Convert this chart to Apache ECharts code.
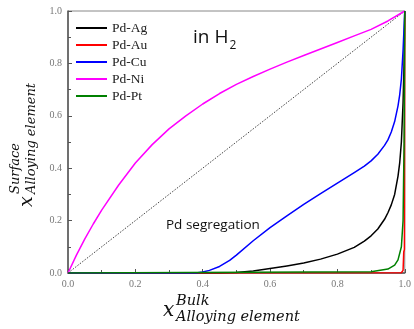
<!DOCTYPE html>
<html><head><meta charset="utf-8">
<script src="https://cdn.jsdelivr.net/npm/echarts@6/dist/echarts.min.js"></script>
<style>html,body{margin:0;padding:0;background:#fff}#c{width:414px;height:329px}</style>
</head><body><div id="c"></div>
<script>
var seriesNames = ['Pd-Ag', 'Pd-Au', 'Pd-Cu', 'Pd-Ni', 'Pd-Pt'];
var seriesColors = ['#000000', '#ff0000', '#0000ff', '#ff00ff', '#008000'];
var tickLabels = ['0.0', '0.2', '0.4', '0.6', '0.8', '1.0'];

var agX = [0, 0.45, 0.5, 0.55, 0.6, 0.65, 0.7, 0.75, 0.8, 0.85, 0.88, 0.9, 0.92, 0.94, 0.95, 0.96, 0.97, 0.98, 0.985, 0.99, 0.995, 0.998, 1.0];
var agY = [0, 0, 0.002, 0.008, 0.017, 0.027, 0.038, 0.053, 0.072, 0.098, 0.122, 0.142, 0.168, 0.205, 0.23, 0.26, 0.3, 0.37, 0.42, 0.5, 0.65, 0.8, 1.0];

var auX = [0, 0.99, 0.995, 0.997, 0.999, 1.0];
var auY = [0, 0.001, 0.01, 0.08, 0.09, 1.0];

var cuX = [0, 0.38, 0.4, 0.42, 0.45, 0.48, 0.5, 0.55, 0.6, 0.65, 0.7, 0.75, 0.8, 0.85, 0.88, 0.9, 0.92, 0.94, 0.95, 0.96, 0.97, 0.98, 0.985, 0.99, 0.995, 1.0];
var cuY = [0, 0, 0.004, 0.01, 0.025, 0.048, 0.068, 0.123, 0.173, 0.218, 0.262, 0.303, 0.343, 0.383, 0.408, 0.428, 0.453, 0.487, 0.508, 0.538, 0.578, 0.638, 0.68, 0.74, 0.85, 1.0];

var niX = [0, 0.025, 0.05, 0.075, 0.1, 0.15, 0.2, 0.25, 0.3, 0.35, 0.4, 0.45, 0.5, 0.55, 0.6, 0.65, 0.7, 0.75, 0.8, 0.85, 0.9, 0.95, 1.0];
var niY = [0, 0.068, 0.13, 0.187, 0.24, 0.335, 0.42, 0.49, 0.55, 0.6, 0.645, 0.685, 0.72, 0.75, 0.778, 0.805, 0.83, 0.855, 0.88, 0.905, 0.93, 0.962, 1.0];

var ptX = [0, 0.9, 0.95, 0.97, 0.98, 0.99, 0.995, 0.998, 1.0];
var ptY = [0, 0.005, 0.015, 0.03, 0.05, 0.1, 0.2, 0.5, 1.0];

var diagX = [0, 1];
var diagY = [0, 1];

function pairs(xs, ys) { return xs.map(function (x, i) { return [x, ys[i]]; }); }

var allX = [agX, auX, cuX, niX, ptX];
var allY = [agY, auY, cuY, niY, ptY];

var chart = echarts.init(document.getElementById('c'), null, {renderer: 'canvas'});

var series = seriesNames.map(function (n, i) {
  return {
    name: n, type: 'line', showSymbol: false, symbol: 'none', smooth: false,
    data: pairs(allX[i], allY[i]),
    lineStyle: {color: seriesColors[i], width: 1.5, join: 'round'},
    itemStyle: {color: seriesColors[i]},
    z: 3
  };
});
series.unshift({
  name: 'diag', type: 'line', showSymbol: false, symbol: 'none',
  data: pairs(diagX, diagY),
  lineStyle: {color: '#444', width: 1, type: [1.5, 1.5]},
  z: 2
});

var serifAxis = {fontFamily: 'Liberation Serif', fontSize: 10, color: '#777'};
function fmt(v) { return tickLabels[Math.round(v / 0.2)]; }

var mathFont = 'DejaVu Serif';

chart.setOption({
  animation: false,
  backgroundColor: '#fff',
  grid: {left: 68, right: 1, top: 11, bottom: 56, show: true, borderColor: '#888', borderWidth: 1},
  legend: {
    data: seriesNames, orient: 'vertical', left: 71, top: 16,
    icon: 'rect', itemWidth: 31, itemHeight: 2, itemGap: 3, padding: 5,
    textStyle: {fontFamily: 'Liberation Serif', fontSize: 13.5, color: '#222'}
  },
  xAxis: {
    type: 'value', min: 0, max: 1, interval: 0.2,
    axisLine: {show: true, lineStyle: {color: '#555', width: 1.5}},
    axisTick: {show: true, inside: true, length: 4, lineStyle: {color: '#555'}},
    minorTick: {show: true, splitNumber: 2, length: 3, lineStyle: {color: '#555'}},
    splitLine: {show: false},
    axisLabel: Object.assign({margin: 6, formatter: fmt, showMaxLabel: true}, serifAxis)
  },
  yAxis: {
    type: 'value', min: 0, max: 1, interval: 0.2,
    axisLine: {show: true, lineStyle: {color: '#555', width: 1.5}},
    axisTick: {show: true, inside: true, length: 4, lineStyle: {color: '#555'}},
    minorTick: {show: true, splitNumber: 2, length: 3, lineStyle: {color: '#555'}},
    splitLine: {show: false},
    axisLabel: Object.assign({margin: 6, formatter: fmt}, serifAxis)
  },
  graphic: [
    {type: 'text', left: 193, top: 28, style: {
      text: '{a|in H}{b|2}', rich: {
        a: {fontFamily: 'Open Sans', fontSize: 19, fill: '#111', verticalAlign: 'bottom'},
        b: {fontFamily: 'Open Sans', fontSize: 12, fill: '#111', verticalAlign: 'bottom', padding: [0, 0, -5, 1]}
      }}},
    {type: 'text', left: 166, top: 218, style: {text: 'Pd segregation', fontFamily: 'Open Sans', fontSize: 13.5, fill: '#111'}},
    {type: 'group', x: 163, y: 311, children: [
      {type: 'text', x: 0, y: 0, style: {text: 'x', fontFamily: mathFont, fontStyle: 'italic', fontSize: 20, fill: '#111', verticalAlign: 'middle'}},
      {type: 'text', x: 13, y: -10, style: {text: 'Bulk', fontFamily: mathFont, fontStyle: 'italic', fontSize: 14.5, fill: '#111', verticalAlign: 'middle'}},
      {type: 'text', x: 13, y: 6, style: {text: 'Alloying element', fontFamily: mathFont, fontStyle: 'italic', fontSize: 14.5, fill: '#111', verticalAlign: 'middle'}}
    ]},
    {type: 'group', x: 27, y: 207, rotation: Math.PI / 2, children: [
      {type: 'text', x: 0, y: 0, style: {text: 'x', fontFamily: mathFont, fontStyle: 'italic', fontSize: 19, fill: '#111', verticalAlign: 'middle'}},
      {type: 'text', x: 13, y: -11, style: {text: 'Surface', fontFamily: mathFont, fontStyle: 'italic', fontSize: 13, fill: '#111', verticalAlign: 'middle'}},
      {type: 'text', x: 13, y: 5, style: {text: 'Alloying element', fontFamily: mathFont, fontStyle: 'italic', fontSize: 13, fill: '#111', verticalAlign: 'middle'}}
    ]}
  ],
  series: series
});
</script></body></html>
